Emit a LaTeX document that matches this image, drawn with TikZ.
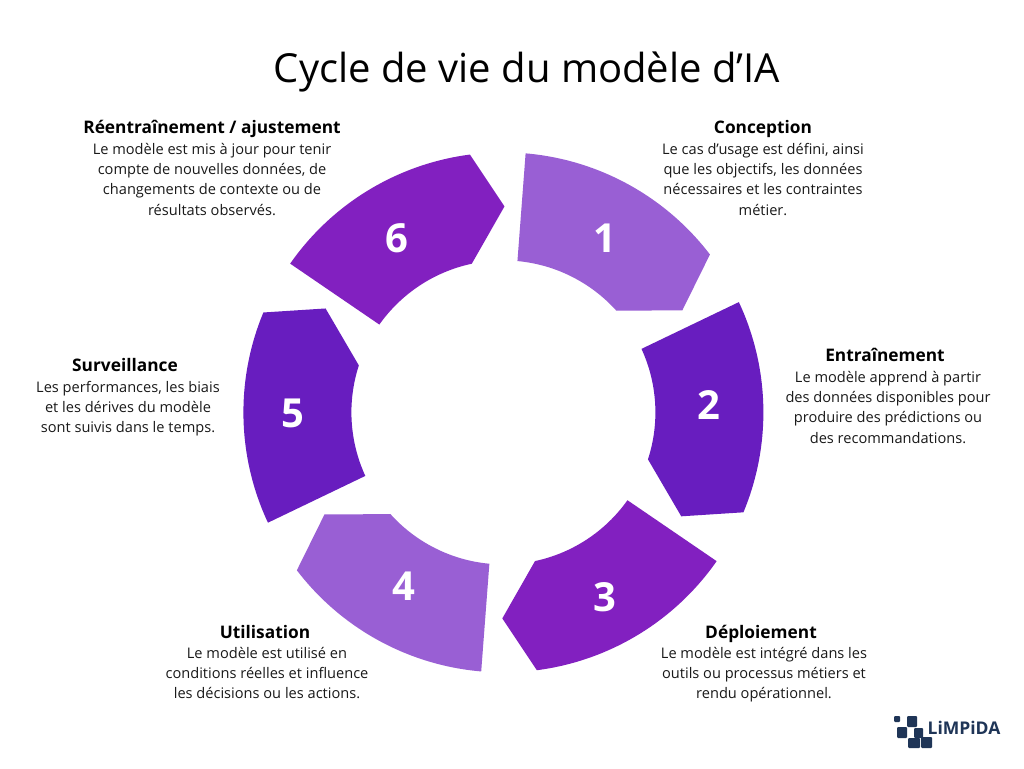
\documentclass[tikz,border=0pt]{standalone}
\usepackage{fontspec}
\setmainfont{Open Sans}
\usetikzlibrary{positioning}
\definecolor{lightviolet}{HTML}{995FD4}
\definecolor{darkviolet}{HTML}{681DBF}
\definecolor{midviolet}{HTML}{8220C0}
\definecolor{logoblue}{HTML}{1F3557}
\tikzset{
  numlabel/.style={text=white,font=\fontsize{40}{44}\selectfont\bfseries,inner sep=0pt},
  steptitle/.style={font=\fontsize{17.3}{20}\selectfont\bfseries,inner sep=0pt,text height=12pt,text depth=4pt},
  steptext/.style={font=\fontsize{14.6}{20.2}\selectfont,align=center,inner sep=0pt,text=black!90,execute at begin node=\strut}
}
\begin{document}
\begin{tikzpicture}[x=1pt,y=1pt]
    \useasboundingbox (0,0) rectangle (1024,768);
    \fill[white] (0,0) rectangle (1024,768);

    %the six ring segments
    \foreach \rot/\col in {0/lightviolet,-60/darkviolet,-120/midviolet,-180/lightviolet,-240/darkviolet,-300/midviolet}{
        \begin{scope}[shift={(503.4,355.6)},rotate=\rot]
            \fill[\col] (85.1:260) arc[start angle=85.1,end angle=37.4,radius=260]
                -- (29.7:206) -- (42:152) arc[start angle=42,end angle=84.7,radius=152] -- cycle;
        \end{scope}
    }

    %numbers
    \node[numlabel] (num1) at (604.5,530) {1};
    \node[numlabel] (num2) at (708.5,363) {2};
    \node[numlabel] (num3) at (604.5,171) {3};
    \node[numlabel] (num4) at (403.5,182) {4};
    \node[numlabel] (num5) at (292.5,355) {5};
    \node[numlabel] (num6) at (396.5,530) {6};

    \node[font=\fontsize{40}{44}\selectfont,inner sep=0pt] (title) at (527,696) {Cycle de vie du modèle d’IA};

    %texts round the ring
    \node[steptitle] (conception) at (763,638) {Conception};
    \node[steptext,below=5pt of conception] (conceptiontext) {Le cas d’usage est défini, ainsi\\que les objectifs, les données\\nécessaires et les contraintes\\métier.};

    \node[steptitle] (entrainement) at (885,410) {Entraînement};
    \node[steptext,below=5pt of entrainement,xshift=3pt] (entrainementtext) {Le modèle apprend à partir\\des données disponibles pour\\produire des prédictions ou\\des recommandations.};

    \node[steptitle] (deploiement) at (761,134) {Déploiement};
    \node[steptext,below=5pt of deploiement,xshift=3pt] (deploiementtext) {Le modèle est intégré dans les\\outils ou processus métiers et\\rendu opérationnel.};

    \node[steptitle] (utilisation) at (265,134) {Utilisation};
    \node[steptext,below=5pt of utilisation,xshift=2pt] (utilisationtext) {Le modèle est utilisé en\\conditions réelles et influence\\les décisions ou les actions.};

    \node[steptitle] (surveillance) at (125,400) {Surveillance};
    \node[steptext,below=5pt of surveillance,xshift=3pt] (surveillancetext) {Les performances, les biais\\et les dérives du modèle\\sont suivis dans le temps.};

    \node[steptitle] (reentrainement) at (212,638) {Réentraînement / ajustement};
    \node[steptext,below=5pt of reentrainement] (reentrainementtext) {Le modèle est mis à jour pour tenir\\compte de nouvelles données, de\\changements de contexte ou de\\résultats observés.};

    %logo
    \fill[logoblue,rounded corners=1pt] (894,52) rectangle (900,46);
    \fill[logoblue,rounded corners=1pt] (907,52) rectangle (917,41);
    \fill[logoblue,rounded corners=1pt] (897,41) rectangle (907,30);
    \fill[logoblue,rounded corners=1pt] (914,40) rectangle (923,30);
    \fill[logoblue,rounded corners=1pt] (908,30) rectangle (920,20);
    \fill[logoblue,rounded corners=1pt] (921,31) rectangle (932,20);
    \node[font=\fontsize{17.5}{18}\selectfont\bfseries,text=logoblue,inner sep=0pt] (logotext) at (964,40) {LiMPiDA};
\end{tikzpicture}
\end{document}
